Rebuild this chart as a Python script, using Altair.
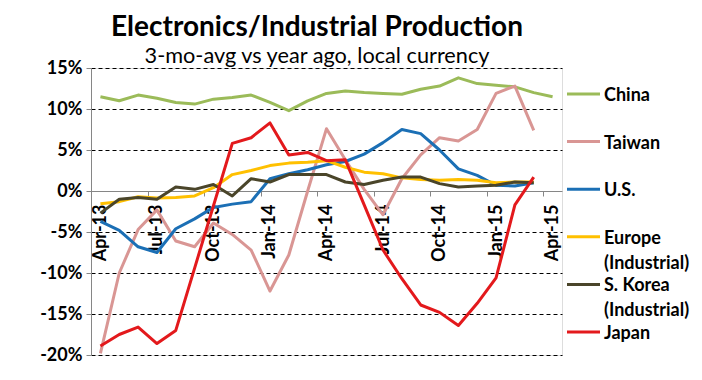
import altair as alt
import pandas as pd

# ---------------- data ----------------
months = ["Apr-13", "May-13", "Jun-13", "Jul-13", "Aug-13", "Sep-13", "Oct-13",
          "Nov-13", "Dec-13", "Jan-14", "Feb-14", "Mar-14", "Apr-14", "May-14",
          "Jun-14", "Jul-14", "Aug-14", "Sep-14", "Oct-14", "Nov-14", "Dec-14",
          "Jan-15", "Feb-15", "Mar-15", "Apr-15"]

series = ["China", "Taiwan", "U.S.", "Europe (Industrial)",
          "S. Korea (Industrial)", "Japan"]
legend_labels = ["China", "Taiwan", "U.S.", "Europe\n(Industrial)",
                 "S. Korea\n(Industrial)", "Japan"]

china = [11.5, 11.0, 11.7, 11.3, 10.8, 10.6, 11.2, 11.4, 11.7, 10.8, 9.8, 11.0,
         11.9, 12.2, 12.0, 11.9, 11.8, 12.4, 12.8, 13.8, 13.1, 12.9, 12.7, 12.0, 11.5]
taiwan = [-19.8, -10.0, -4.7, -2.3, -6.1, -6.8, -3.9, -5.3, -7.2, -12.2, -7.8, 0.0,
          7.6, 3.8, 0.2, -2.9, 1.5, 4.4, 6.5, 6.1, 7.5, 11.9, 12.8, 7.4]
us = [-3.7, -4.8, -6.8, -7.5, -4.6, -3.4, -2.0, -1.6, -1.3, 1.5, 2.1, 2.6,
      3.2, 3.6, 4.5, 5.9, 7.5, 7.0, 5.0, 2.7, 1.9, 0.7, 0.6, 1.0]
europe = [-1.55, -1.3, -0.7, -0.85, -0.8, -0.6, 0.4, 2.0, 2.5, 3.1, 3.4, 3.5,
          3.7, 2.9, 2.3, 2.1, 1.6, 1.4, 1.3, 1.4, 1.3, 1.0, 1.1, 1.1]
skorea = [-2.7, -1.0, -0.8, -1.0, 0.5, 0.2, 0.8, -0.6, 1.5, 1.1, 2.0, 2.0,
          2.0, 1.1, 0.8, 1.3, 1.7, 1.7, 0.9, 0.5, 0.6, 0.7, 1.1, 1.0]
japan = [-18.9, -17.5, -16.6, -18.6, -17.0, -9.4, -1.8, 5.8, 6.5, 8.3, 4.4, 4.7,
         3.7, 3.8, -1.7, -7.2, -10.7, -13.9, -14.8, -16.4, -13.7, -10.6, -1.7, 1.7]

values = [china, taiwan, us, europe, skorea, japan]
colors = ["#9BBB59", "#D99694", "#1B6FB5", "#FFC000", "#4A452A", "#E3191C"]

title_text = "Electronics/Industrial Production"
subtitle_text = "3-mo-avg vs year ago, local currency"

# ---------------- tables ----------------
rows = []
for s, vals in zip(series, values):
    for i, v in enumerate(vals):
        rows.append({"series": s, "i": i, "v": v})
df = pd.DataFrame(rows)
leg_df = pd.DataFrame({"series": series, "label": legend_labels})

FONT = "Lato"
GRAY = "#868686"
month_js = "[" + ",".join("'%s'" % m for m in months) + "]"

xscale = alt.Scale(domain=[-0.5, len(months) - 0.5], nice=False, zero=False)
yscale = alt.Scale(domain=[-20, 15], nice=False, zero=False)

x_enc = alt.X(
    "i:Q", scale=xscale,
    axis=alt.Axis(values=list(range(0, len(months), 3)),
                  labelExpr=month_js + "[datum.value]",
                  labelAngle=270, labelAlign="right", labelBaseline="middle",
                  labelPadding=13, ticks=False, tickSize=0, grid=False,
                  domainColor=GRAY, domainWidth=1, offset=-164, orient="bottom",
                  title=None, labelFont=FONT, labelFontSize=18,
                  labelFontWeight="bold", labelColor="black",
                  labelOverlap=False, labelFlush=False))
y_enc = alt.Y(
    "v:Q", scale=yscale,
    axis=alt.Axis(values=list(range(-20, 16, 5)),
                  labelExpr="datum.value + '%'",
                  grid=True, gridColor="black", gridDash=[4, 3], gridWidth=1,
                  gridOpacity={"condition": {"test": "datum.value === 0", "value": 0},
                               "value": 1},
                  domainColor=GRAY, domainWidth=1, tickColor=GRAY, tickSize=5,
                  labelPadding=4, title=None, labelFont=FONT, labelFontSize=18,
                  labelFontWeight="bold", labelColor="black", labelOverlap=False,
                  labelFlush=False))

base = alt.Chart(df).encode(x=x_enc, y=y_enc)
series_layers = [
    base.transform_filter(alt.datum.series == s).mark_line(
        color=c, strokeWidth=3, strokeJoin="round")
    for s, c in zip(series, colors)
]
lines = alt.layer(*series_layers)

tick_layer = alt.Chart(df).mark_point(opacity=0).encode(
    x=alt.X("i:Q", scale=xscale,
            axis=alt.Axis(values=[-0.5 + 3 * k for k in range(9)], labels=False,
                          domain=False, ticks=True, tickSize=5, tickColor=GRAY,
                          grid=False, offset=-164, orient="bottom", title=None)))

leg_base = alt.Chart(leg_df).transform_window(row="row_number()").encode(
    y=alt.Y("row:Q", scale=alt.Scale(domain=[1, 6], range=[26, 264]), axis=None))
leg_rules = leg_base.mark_rule(strokeWidth=3).encode(
    x=alt.value(476), x2=alt.value(509),
    color=alt.Color("series:N", scale=alt.Scale(domain=series, range=colors),
                    legend=None))
leg_text = leg_base.mark_text(
    align="left", baseline="top", dy=-7, lineBreak="\n", lineHeight=25,
    font=FONT, fontSize=18, fontWeight="bold", color="black").encode(
    x=alt.value(513), text="label:N")

title_layer = alt.Chart(pd.DataFrame({"t": [title_text]})).mark_text(
    font=FONT, fontSize=28, fontWeight="bold", align="center",
    baseline="alphabetic", color="black").encode(
    x=alt.value(226), y=alt.value(-32), text="t:N")
subtitle_layer = alt.Chart(pd.DataFrame({"t": [subtitle_text]})).mark_text(
    font=FONT, fontSize=21.7, align="center", baseline="alphabetic",
    color="black").encode(
    x=alt.value(226), y=alt.value(-5), text="t:N")

chart = alt.layer(
    lines, tick_layer, leg_rules, leg_text, title_layer, subtitle_layer
).resolve_scale(y="independent").resolve_axis(
    x="independent", y="independent"
).properties(
    width=471, height=287,
    autosize=alt.AutoSizeParams(type="none"),
    padding={"left": 83, "top": 60, "right": 132, "bottom": 17},
).configure_view(stroke=None).configure(background="white")

chart.save("out.html", embed_options={"renderer": "svg", "actions": False})
